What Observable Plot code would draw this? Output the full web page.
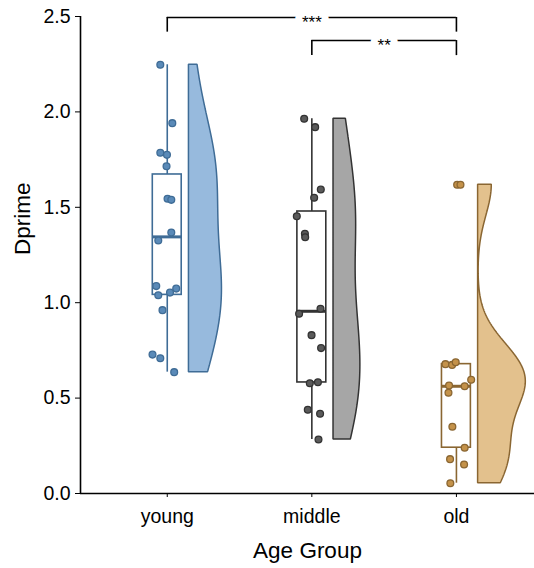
<!DOCTYPE html>
<html>
<head>
<meta charset="utf-8">
<script src="https://cdn.jsdelivr.net/npm/d3@7"></script>
<script src="https://cdn.jsdelivr.net/npm/@observablehq/plot@0.6"></script>
<style>
  body { margin: 0; background: #fff; }
  #chart { width: 534px; height: 568px; }
  #chart svg g[aria-label="x-axis tick label"] text,
  #chart svg g[aria-label="y-axis tick label"] text,
  #chart svg g[aria-label="x-axis"] text,
  #chart svg g[aria-label="y-axis"] text { font-size: 19.5px !important; fill: black; }
</style>
</head>
<body>
<div id="chart"></div>
<script>
// ---- data ----
const categories = ["young", "middle", "old"];

const youngValues = [2.247, 1.941, 1.786, 1.775, 1.715, 1.545, 1.539, 1.368, 1.326, 1.087, 1.074, 1.039, 1.053, 0.961, 0.728, 0.709, 0.636];
const youngJitter = [-0.048, 0.035, -0.048, -0.002, -0.005, 0.002, 0.028, 0.028, -0.062, -0.076, 0.062, -0.062, 0.019, -0.033, -0.102, -0.048, 0.048];

const middleValues = [1.964, 1.920, 1.593, 1.550, 1.453, 1.361, 1.343, 0.968, 0.942, 0.830, 0.762, 0.578, 0.583, 0.439, 0.418, 0.283];
const middleJitter = [-0.053, 0.023, 0.062, 0.016, -0.104, -0.048, -0.046, 0.060, -0.088, -0.002, 0.064, -0.014, 0.042, -0.028, 0.057, 0.046];

const oldValues = [1.618, 1.618, 0.678, 0.674, 0.688, 0.596, 0.566, 0.562, 0.528, 0.350, 0.240, 0.180, 0.152, 0.054];
const oldJitter = [0.005, 0.028, -0.076, -0.030, -0.005, 0.102, -0.051, 0.057, -0.055, -0.028, 0.057, -0.044, 0.053, -0.042];

// box summaries
const boxLow = [0.636, 0.283, 0.054];
const boxQ1 = [1.041, 0.582, 0.240];
const boxMedian = [1.345, 0.955, 0.562];
const boxQ3 = [1.672, 1.478, 0.678];
const boxHigh = [2.247, 1.964, 0.688];

const yTicks = [0, 0.5, 1.0, 1.5, 2.0, 2.5];

// significance brackets
const bracketLabels = ["***", "**"];
const bracketFrom = ["young", "middle"];
const bracketTo = ["old", "old"];
const bracketY = [2.495, 2.374];
const bracketTip = [2.418, 2.295];

// colours
const violinFill = ["#97badd", "#a6a6a6", "#e3c18d"];
const mainStroke = ["#3f6c96", "#333333", "#8a6632"];
const pointFill = ["#5a8ab8", "#5a5a5a", "#c4924a"];

// ---- derived tables ----
const groupValues = [youngValues, middleValues, oldValues];
const groupJitter = [youngJitter, middleJitter, oldJitter];

const points = [];
groupValues.forEach((vals, gi) => vals.forEach((v, j) => points.push({g: gi, x: gi + 1 + groupJitter[gi][j], v})));

const boxes = categories.map((c, i) => ({g: i, x: i + 1, lo: boxLow[i], q1: boxQ1[i], med: boxMedian[i], q3: boxQ3[i], hi: boxHigh[i]}));

// kernel density (gaussian, bw.nrd0), trimmed to data range, count-scaled
function bwNrd0(x) {
  const sd = d3.deviation(x);
  const iqr = d3.quantile(x, 0.75) - d3.quantile(x, 0.25);
  const lo = Math.min(sd, iqr / 1.34);
  return 0.9 * lo * Math.pow(x.length, -0.2);
}
const violins = groupValues.map((vals, gi) => {
  const bw = bwNrd0(vals);
  const [mn, mx] = d3.extent(vals);
  const n = 512;
  const rows = [];
  for (let k = 0; k < n; k++) {
    const y = mn + (mx - mn) * k / (n - 1);
    let s = 0;
    for (const v of vals) { const u = (y - v) / bw; s += Math.exp(-0.5 * u * u); }
    rows.push({g: gi, v: y, d: s / (bw * Math.sqrt(2 * Math.PI))});
  }
  return rows;
});
const gmax = d3.max(violins.flat(), d => d.d);
const violinOffset = 0.15, violinWidth = 0.33;
violins.forEach((rows, gi) => rows.forEach(r => { r.x1 = gi + 1 + violinOffset; r.x2 = gi + 1 + violinOffset + r.d / gmax * violinWidth; }));

const brackets = bracketLabels.map((l, i) => {
  const a = categories.indexOf(bracketFrom[i]) + 1, b = categories.indexOf(bracketTo[i]) + 1;
  return {label: l, x1: a, x2: b, mid: (a + b) / 2, y: bracketY[i], tip: bracketTip[i]};
});
const bracketTips = brackets.flatMap(b => [{x: b.x1, y1: b.tip, y2: b.y}, {x: b.x2, y1: b.tip, y2: b.y}]);

// ---- marks ----
const marks = [];
categories.forEach((c, gi) => {
  marks.push(Plot.areaX(violins[gi], {y: "v", x1: "x1", x2: "x2", fill: violinFill[gi], stroke: mainStroke[gi], strokeWidth: 1.5, strokeLinejoin: "miter"}));
  const bx = boxes.filter(b => b.g === gi);
  marks.push(Plot.ruleX(bx, {x: "x", y1: "lo", y2: "q1", stroke: mainStroke[gi], strokeWidth: 1.6}));
  marks.push(Plot.ruleX(bx, {x: "x", y1: "q3", y2: "hi", stroke: mainStroke[gi], strokeWidth: 1.6}));
  marks.push(Plot.rect(bx, {x1: d => d.x - 0.1, x2: d => d.x + 0.1, y1: "q1", y2: "q3", fill: "white", stroke: mainStroke[gi], strokeWidth: 1.6}));
  marks.push(Plot.ruleY(bx, {y: "med", x1: d => d.x - 0.1, x2: d => d.x + 0.1, stroke: mainStroke[gi], strokeWidth: 3}));
});
categories.forEach((c, gi) => {
  marks.push(Plot.dot(points.filter(p => p.g === gi), {x: "x", y: "v", r: 3.4, fill: pointFill[gi], stroke: mainStroke[gi], strokeWidth: 1.3}));
});
marks.push(Plot.ruleY(brackets, {y: "y", x1: "x1", x2: "x2", stroke: "black", strokeWidth: 1.6}));
marks.push(Plot.ruleX(bracketTips, {x: "x", y1: "y1", y2: "y2", stroke: "black", strokeWidth: 1.6}));
marks.push(Plot.text(brackets, {x: "mid", y: "y", text: "label", fill: "black", stroke: "white", strokeWidth: 14, paintOrder: "stroke", fontSize: 17, dy: 5}));
// axis lines
marks.push(Plot.ruleY([0], {stroke: "black", strokeWidth: 1.6}));
marks.push(Plot.ruleX([0.4], {stroke: "black", strokeWidth: 1.6}));
// axis titles
marks.push(Plot.text(["Dprime"], {text: d => d, frameAnchor: "left", dx: -58, rotate: -90, fontSize: 22.5, fill: "black"}));
marks.push(Plot.text(["Age Group"], {text: d => d, frameAnchor: "bottom", dy: 64, fontSize: 22.5, fill: "black"}));

const chart = Plot.plot({
  width: 534,
  height: 568,
  marginTop: 16,
  marginBottom: 75,
  marginLeft: 80,
  marginRight: 0,
  style: {fontFamily: "'Liberation Sans', Arial, sans-serif", fontSize: "19.5px", background: "white", color: "black", overflow: "visible"},
  x: {type: "linear", domain: [0.4, 3.54], ticks: [1, 2, 3], tickFormat: i => categories[i - 1], tickSize: 4, tickPadding: 12, label: null},
  y: {domain: [0, 2.5], ticks: yTicks, tickFormat: d3.format(".1f"), tickSize: 5, tickPadding: 5, label: null},
  marks
});
document.getElementById("chart").appendChild(chart);
</script>
</body>
</html>
